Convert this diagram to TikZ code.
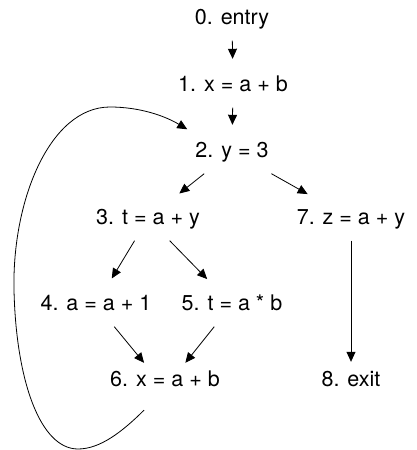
\documentclass[tikz,border=0pt]{standalone}
\usepackage{fontspec}
\setmainfont{TeX Gyre Heros}
\usetikzlibrary{arrows.meta}
\begin{document}
\begin{tikzpicture}[x=1pt,y=-1pt,
  lbl/.style={anchor=base, font=\fontsize{21.5}{26}\selectfont, text height=16pt, text depth=5pt, inner ysep=11.5pt, inner xsep=8pt},
  lowlbl/.style={lbl, text height=8pt, text depth=12.5pt},
  arr/.style={line width=0.8pt, -{Triangle[length=10pt,width=9pt]}, shorten >=4.5pt},
  backedge/.style={line width=0.8pt, -{Triangle[length=10pt,width=9pt]}}]
\useasboundingbox (0,0) rectangle (417,450);
\node[lbl] (n0) at (232,24) {0. entry};
\node[lbl] (n1) at (233,91) {1. x = a + b};
\node[lbl] (n2) at (232,157) {2. y = 3};
\node[lbl] (n3) at (148,224) {3. t = a + y};
\node[lbl] (n7) at (351,224) {7. z = a + y};
\node[lbl] (n4) at (96,310) {4. a = a + 1};
\node[lbl] (n5) at (232,310) {5. t = a * b};
\node[lowlbl] (n6) at (165,386) {6. x = a + b};
\node[lowlbl] (n8) at (351,386) {8. exit};
\draw[arr] (n0) -- (n1);
\draw[arr] (n1) -- (n2);
\draw[arr] (n2) -- (n3);
\draw[arr] (n2) -- (n7);
\draw[arr] (n3) -- (n4);
\draw[arr] (n3) -- (n5);
\draw[arr] (n4) -- (n6);
\draw[arr] (n5) -- (n6);
\draw[arr] (n7) -- (n8);
\draw[backedge] ([xshift=-21pt]n6.south) .. controls (122,432) and (100,449) .. (78,449)
  .. controls (40,449) and (16,380) .. (14,290)
  .. controls (12,200) and (50,107) .. (110,107)
  .. controls (140,107) and (165,116) .. (n2.north west);
\end{tikzpicture}
\end{document}
